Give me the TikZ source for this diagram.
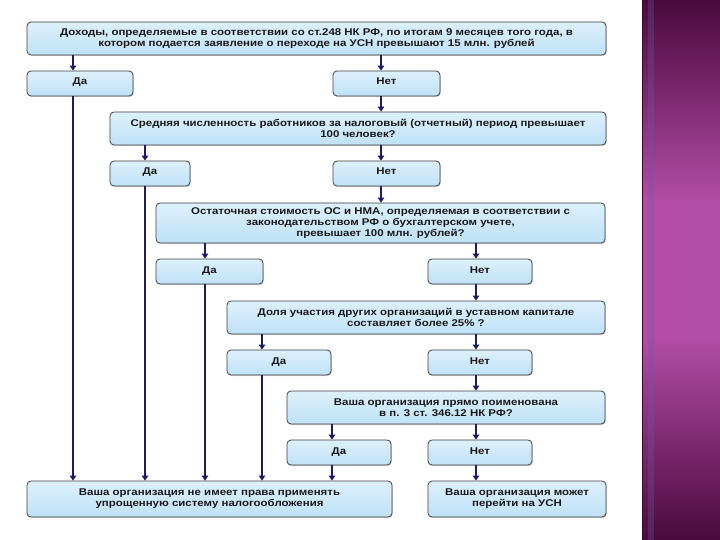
\documentclass[tikz,border=0pt]{standalone}
\usepackage{fontspec}
\setmainfont{Liberation Sans}
\newfontfamily\boxfont[FakeStretch=1.17]{Liberation Sans}
\usetikzlibrary{arrows.meta,shadows,calc}
\definecolor{boxtop}{HTML}{DDF0FC}
\definecolor{boxbot}{HTML}{BFE1F7}
\definecolor{arrcol}{HTML}{1C1C66}
\definecolor{pdark}{HTML}{4A0A3C}
\definecolor{pmid}{HTML}{B24CA6}
\definecolor{stripe}{HTML}{6A5AA8}
\tikzset{
  box/.style={draw=black!75, line width=0.8pt, rounded corners=4pt,
    top color=boxtop, bottom color=boxbot, inner sep=1pt, align=center,
    font=\boxfont\fontsize{9.8}{10.8}\selectfont\bfseries, text=black!90,
    drop shadow={shadow xshift=0.8pt, shadow yshift=-1pt, fill=black!35}},
  yesno/.style={text height=7pt, text depth=4pt},
  arr/.style={draw=arrcol, line width=1.5pt, -{Triangle[length=5pt,width=6.5pt]}}
}
\newcommand{\mybox}[7][]{% options, name, x1, y1, x2, y2, text
  \node[box, #1, minimum width={(#5-#3)*1pt}, minimum height={(#6-#4)*1pt}] (#2) at ({(#3+#5)/2},{(#4+#6)/2}) {#7};}
\begin{document}
\begin{tikzpicture}[x=1pt,y=-1pt]
\useasboundingbox (0,0) rectangle (720,540);
\fill[white] (0,0) rectangle (720,540);
% purple side panel
\shade[top color=pdark, bottom color=pmid] (642,0) rectangle (720,200);
\fill[pmid] (642,199.5) rectangle (720,340.5);
\shade[top color=pmid, bottom color=pdark] (642,340) rectangle (720,540);
\fill[stripe, opacity=0.3] (648,0) rectangle (654,540);
\draw[pdark!80!black, line width=0.8pt] (642.4,0) -- (642.4,540);

% boxes
\mybox{top}{27}{22}{606}{55}{Доходы, определяемые в соответствии со ст.248 НК РФ, по итогам 9 месяцев того года, в\\котором подается заявление о переходе на УСН превышают 15 млн. рублей}
\mybox[yesno]{da1}{27}{71}{133}{96}{Да}
\mybox[yesno]{net1}{333}{71}{440}{96}{Нет}
\mybox{q2}{110}{112}{606}{145}{Средняя численность работников за налоговый (отчетный) период превышает\\100 человек?}
\mybox[yesno]{da2}{110}{161}{190}{186}{Да}
\mybox[yesno]{net2}{333}{161}{440}{186}{Нет}
\mybox{q3}{156}{203}{605}{243}{Остаточная стоимость ОС и НМА, определяемая в соответствии с\\законодательством РФ о бухгалтерском учете,\\превышает 100 млн. рублей?}
\mybox[yesno]{da3}{156}{259}{263}{284}{Да}
\mybox[yesno]{net3}{428}{259}{532}{284}{Нет}
\mybox{q4}{227}{301}{605}{334}{Доля участия других организаций в уставном капитале\\составляет более 25\% ?}
\mybox[yesno]{da4}{227}{350}{331}{375}{Да}
\mybox[yesno]{net4}{428}{350}{532}{375}{Нет}
\mybox{q5}{287}{391}{605}{424}{Ваша организация прямо поименована\\в п. 3 ст. 346.12 НК РФ?}
\mybox[yesno]{da5}{287}{440}{391}{465}{Да}
\mybox[yesno]{net5}{428}{440}{532}{465}{Нет}
\mybox{fin1}{27}{481}{392}{517}{Ваша организация не имеет права применять\\упрощенную систему налогообложения}
\mybox{fin2}{428}{481}{606}{517}{Ваша организация может\\перейти на УСН}

% connectors
\draw[arr] (top.south -| 73,0) -- (da1.north -| 73,0);
\draw[arr] (top.south -| 381,0) -- (net1.north -| 381,0);
\draw[arr] (net1.south -| 381,0) -- (q2.north -| 381,0);
\draw[arr] (q2.south -| 145,0) -- (da2.north -| 145,0);
\draw[arr] (q2.south -| 381,0) -- (net2.north -| 381,0);
\draw[arr] (net2.south -| 381,0) -- (q3.north -| 381,0);
\draw[arr] (q3.south -| 205,0) -- (da3.north -| 205,0);
\draw[arr] (q3.south -| 476,0) -- (net3.north -| 476,0);
\draw[arr] (net3.south -| 476,0) -- (q4.north -| 476,0);
\draw[arr] (q4.south -| 262,0) -- (da4.north -| 262,0);
\draw[arr] (q4.south -| 476,0) -- (net4.north -| 476,0);
\draw[arr] (net4.south -| 476,0) -- (q5.north -| 476,0);
\draw[arr] (q5.south -| 332,0) -- (da5.north -| 332,0);
\draw[arr] (q5.south -| 476,0) -- (net5.north -| 476,0);
\draw[arr] (da1.south -| 73,0) -- (fin1.north -| 73,0);
\draw[arr] (da2.south -| 145,0) -- (fin1.north -| 145,0);
\draw[arr] (da3.south -| 205,0) -- (fin1.north -| 205,0);
\draw[arr] (da4.south -| 262,0) -- (fin1.north -| 262,0);
\draw[arr] (da5.south -| 332,0) -- (fin1.north -| 332,0);
\draw[arr] (net5.south -| 476,0) -- (fin2.north -| 476,0);
\end{tikzpicture}
\end{document}
